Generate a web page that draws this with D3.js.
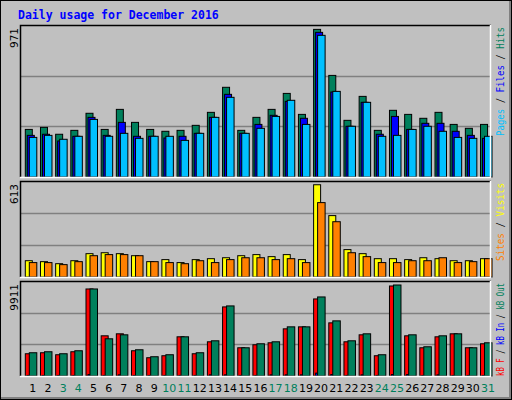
<!DOCTYPE html>
<html><head><meta charset="utf-8">
<script src="https://cdn.jsdelivr.net/npm/d3@7"></script>
<style>body{margin:0;background:#fff}svg{display:block}</style>
</head><body>
<script>
const days = d3.range(1,32);
const weekends = [3,4,10,11,17,18,24,25,31];
const hits  = [304,317,273,298,407,304,432,349,304,292,298,330,413,573,298,381,432,534,400,943,649,362,515,298,426,400,375,413,336,311,336];
const files = [266,273,230,260,381,266,349,260,260,249,260,279,381,528,279,336,394,483,375,924,543,324,477,273,387,304,343,343,292,266,247];
const pages = [253,266,241,260,368,260,279,247,260,260,234,279,381,509,279,311,387,490,336,905,547,324,477,260,266,304,324,292,253,247,260];
const visits = [104,98,85,104,149,155,149,136,98,111,92,111,117,123,136,143,130,143,111,589,392,175,149,117,117,111,123,117,104,104,117];
const sites  = [92,92,79,98,136,143,143,136,98,92,85,104,92,111,123,123,111,117,92,475,353,155,130,92,92,104,104,123,92,98,117];
const kbF   = [2322,2426,2218,2530,9079,4193,4401,2634,1906,2114,4089,2322,3569,7208,2945,3257,3465,4920,5128,8039,5544,3569,4297,2114,9390,4193,2945,4089,4401,2945,3361];
const kbIn  = [60,60,60,60,150,60,120,60,60,60,60,60,120,120,60,60,120,120,120,300,150,60,120,60,150,150,60,120,60,60,60];
const kbOut = [2426,2530,2322,2634,9079,3881,4297,2737,2010,2218,4089,2426,3673,7311,2945,3361,3569,5128,5128,8247,5752,3673,4401,2218,9494,4297,3049,4193,4401,2945,3465];
const maxTop = 971, maxMid = 613, maxBot = 9911;

const W=512,H=400;
const svg=d3.select("body").append("svg").attr("width",W).attr("height",H);
svg.append("rect").attr("x",0).attr("y",0).attr("width",W).attr("height",H).attr("fill","#c0c0c0");
svg.append("path").attr("d",`M1,${H-1.5}H${W-1.5}V1`).attr("stroke","#808080").attr("stroke-width",3).attr("fill","none");
svg.append("rect").attr("x",0.5).attr("y",0.5).attr("width",W-1).attr("height",H-1).attr("fill","none").attr("stroke","#000");

svg.append("text").attr("x",18).attr("y",19).text("Daily usage for December 2016")
  .attr("font-family","DejaVu Sans Mono").attr("font-weight","bold").attr("font-size",11.5).attr("fill","#0000ff");

const x = d3.scaleBand().domain(days).range([20,491]).paddingInner(0).paddingOuter(0.02);
const x0 = d=> x(d)+5;

function panel(top,bottom,max,series,offsets,widths,label,legend,legLen){
  svg.append("rect").attr("x",20).attr("y",top).attr("width",471).attr("height",bottom-top).attr("fill","#c0c0c0");
  const y=d3.scaleLinear().domain([0,max]).range([bottom,top]);
  [1/3,2/3].forEach(f=>{
    svg.append("line").attr("x1",21).attr("x2",490).attr("y1",Math.round(y(max*f))+0.5).attr("y2",Math.round(y(max*f))+0.5)
      .attr("stroke","#808080").attr("stroke-width",1.5);
  });
  series.forEach((s,i)=>{
    svg.append("g").selectAll("rect").data(s.values).join("rect")
      .attr("x",(d,j)=>x0(days[j])+offsets[i]).attr("width",widths[i])
      .attr("y",d=>y(d)).attr("height",d=>bottom-y(d))
      .attr("fill",s.color).attr("stroke","#000").attr("stroke-width",1);
  });
  svg.append("path").attr("d",`M20.5,${bottom}V${top+0.5}H491`).attr("stroke","#000").attr("fill","none").attr("stroke-width",1.5);
  svg.append("path").attr("d",`M20,${bottom+0.5}H490.5V${top}`).attr("stroke","#fff").attr("fill","none").attr("stroke-width",1.5);
  svg.append("text").attr("transform",`translate(18,${top+3}) rotate(-90)`).attr("text-anchor","end")
    .attr("font-family","DejaVu Sans").attr("font-size",10.5).text(label);
  const t=svg.append("text").attr("transform",`translate(504,${top+2+legLen}) rotate(-90)`)
    .attr("font-family","DejaVu Sans Mono").attr("font-size",10)
    .attr("textLength",legLen).attr("lengthAdjust","spacingAndGlyphs");
  legend.forEach((l,i)=>{ t.append("tspan").attr("fill",l[1]).text(l[0]); });
}
panel(25,177,maxTop,[{values:hits,color:"#00805c"},{values:files,color:"#0000ff"},{values:pages,color:"#00c0ff"}],[0,2,4],[7,7,7.5],"971",
  [["Pages","#00c0ff"],[" / ","#000"],["Files","#0000ff"],[" / ","#000"],["Hits","#00805c"]],109);
panel(181,277,maxMid,[{values:visits,color:"#ffff00"},{values:sites,color:"#ff8000"}],[0,4],[7,7.5],"613",
  [["Sites","#ff8000"],[" / ","#000"],["Visits","#ffff00"]],78);
panel(281,376,maxBot,[{values:kbF,color:"#ff0000"},{values:kbIn,color:"#0000ff"},{values:kbOut,color:"#00805c"}],[0,2,4],[7,2,7.5],"9911",
  [["kB F","#ff0000"],[" / ","#000"],["kB In","#0000ff"],[" / ","#000"],["kB Out","#00805c"]],93);

svg.append("g").selectAll("text").data(days).join("text")
  .attr("x",d=>x0(d)+7.5).attr("y",392).attr("text-anchor","middle")
  .attr("font-family","DejaVu Sans").attr("font-size",11)
  .attr("fill",d=>weekends.includes(d)?"#00805c":"#000").text(d=>d);
</script>
</body></html>
